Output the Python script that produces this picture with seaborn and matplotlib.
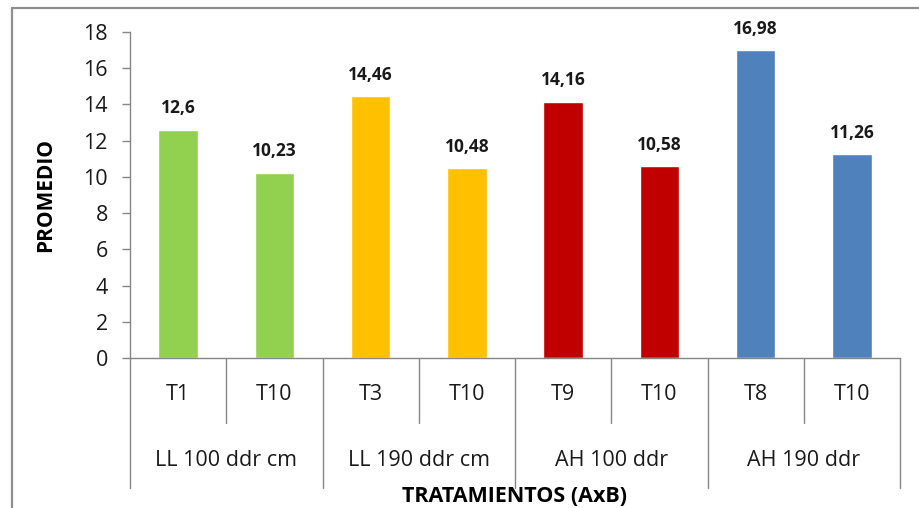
import matplotlib
matplotlib.use("Agg")
import matplotlib.pyplot as plt
import matplotlib.transforms as mtransforms
from matplotlib.lines import Line2D
import seaborn as sns
import pandas as pd

# Mean per treatment, grouped by factor A x B
treatments = ["T1", "T10", "T3", "T10", "T9", "T10", "T8", "T10"]
groups = ["LL 100 ddr cm", "LL 190 ddr cm", "AH 100 ddr", "AH 190 ddr"]
promedio = [12.6, 10.23, 14.46, 10.48, 14.16, 10.58, 16.98, 11.26]
value_labels = ["12,6", "10,23", "14,46", "10,48", "14,16", "10,58", "16,98", "11,26"]
group_colors = ["#92D050", "#FFC000", "#C00000", "#4F81BD"]
y_ticks = [0, 2, 4, 6, 8, 10, 12, 14, 16, 18]

sns.set_style("white")
plt.rcParams["font.family"] = ["Open Sans", "DejaVu Sans"]

per_group = len(treatments) // len(groups)
bar_groups = [groups[i // per_group] for i in range(len(treatments))]
keys = [f"{g}|{t}" for g, t in zip(bar_groups, treatments)]
df = pd.DataFrame({"clave": keys, "promedio": promedio, "grupo": bar_groups})

W, H = 919, 508
fig = plt.figure(figsize=(W / 100, H / 100), dpi=100)
ax = fig.add_axes([130 / W, (H - 358) / H, 770 / W, 326 / H])

sns.barplot(data=df, x="clave", y="promedio", hue="grupo", palette=group_colors,
            dodge=False, width=0.41, saturation=1, legend=False, ax=ax)

ax.set_ylim(0, 18)
ax.set_xlim(-0.5, len(treatments) - 0.5)
ax.set_yticks(y_ticks)
ax.set_yticklabels([str(v) for v in y_ticks])
ax.set_xticks([])
ax.set_xlabel("")
ax.set_ylabel("")

axis_gray = "#868686"
text_col = "#1a1a1a"
for side in ("top", "right"):
    ax.spines[side].set_visible(False)
for side in ("left", "bottom"):
    ax.spines[side].set_color(axis_gray)
    ax.spines[side].set_linewidth(1)
ax.tick_params(axis="y", direction="out", length=6, width=1, color=axis_gray,
               labelsize=15.5, pad=10, labelcolor=text_col, left=True)

# value labels above bars
for i, (v, lab) in enumerate(zip(promedio, value_labels)):
    ax.annotate(lab, xy=(i, v), xytext=(0, 15.5), textcoords="offset points",
                ha="center", va="center", fontsize=12.5, fontweight="bold",
                color=text_col)

# two-level category axis
trans = mtransforms.blended_transform_factory(ax.transData, ax.transAxes)
n = len(treatments)
for b in range(n + 1):
    x = b - 0.5
    depth = -0.399 if b % per_group == 0 else -0.199
    ax.plot([x, x], [0, depth], transform=trans, clip_on=False,
            color=axis_gray, lw=1)
for i, t in enumerate(treatments):
    ax.text(i, -0.113, t, transform=trans, ha="center", va="center",
            fontsize=15.5, color=text_col)
for gi, g in enumerate(groups):
    xc = gi * per_group + (per_group - 1) / 2
    ax.text(xc, -0.313, g, transform=trans, ha="center", va="center",
            fontsize=15.5, color=text_col)

ax.text(0.5, -0.426, "TRATAMIENTOS (AxB)", transform=ax.transAxes,
        ha="center", va="center", fontsize=15.5, fontweight="bold", color="#000000")
ax.text(-0.109, 0.50, "PROMEDIO", transform=ax.transAxes, rotation=90,
        ha="center", va="center", fontsize=15, fontweight="bold", color="#000000")

# chart frame
frame_gray = "#8E8E8E"
top_y = 1 - 7.5 / H
left_x = 11.5 / W
fig.add_artist(Line2D([left_x, 1.0], [top_y, top_y], transform=fig.transFigure,
                      color=frame_gray, lw=1.6))
fig.add_artist(Line2D([left_x, left_x], [0.0, top_y], transform=fig.transFigure,
                      color=frame_gray, lw=1.6))

fig.savefig("out.png", dpi=100)
